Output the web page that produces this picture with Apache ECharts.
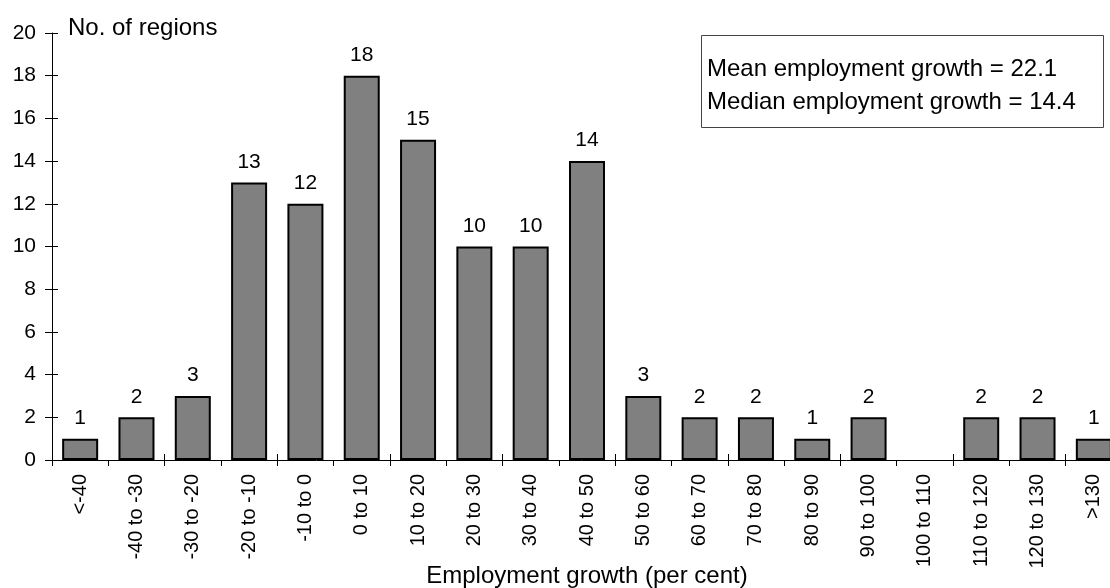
<!DOCTYPE html>
<html>
<head>
<meta charset="utf-8">
<script src="https://cdn.jsdelivr.net/npm/echarts@6/dist/echarts.min.js"></script>
<style>
  html, body { margin: 0; padding: 0; background: #fff; }
  #chart { width: 1110px; height: 588px; }
</style>
</head>
<body>
<div id="chart"></div>
<script>
// Employment growth bands (per cent)
const categories = ['<-40', '-40 to -30', '-30 to -20', '-20 to -10', '-10 to 0',
  '0 to 10', '10 to 20', '20 to 30', '30 to 40', '40 to 50', '50 to 60',
  '60 to 70', '70 to 80', '80 to 90', '90 to 100', '100 to 110',
  '110 to 120', '120 to 130', '>130'];

// Number of regions in each band
const regionCounts = [1, 2, 3, 13, 12, 18, 15, 10, 10, 14, 3, 2, 2, 1, 2, null, 2, 2, 1];

// Summary statistics shown in the note box
const summaryLines = ['Mean employment growth = 22.1', 'Median employment growth = 14.4'];

const yMax = 20;
const yStep = 2;

const FONT = 'Liberation Sans, Arial, sans-serif';

const chart = echarts.init(document.getElementById('chart'), null, { renderer: 'canvas' });

chart.setOption({
  backgroundColor: '#ffffff',
  animation: false,
  grid: {
    left: 52, right: -12, top: 33, bottom: 128,
    containLabel: false,
    outerBoundsMode: 'none'
  },
  xAxis: [
    {
      type: 'category',
      data: categories,
      position: 'bottom',
      boundaryGap: true,
      axisLine: { show: true, onZero: false, lineStyle: { color: '#000', width: 1 } },
      axisTick: { show: true, alignWithLabel: false, inside: false, length: 6, lineStyle: { color: '#000', width: 1 } },
      axisLabel: {
        rotate: 90, margin: 14, interval: 0,
        color: '#000', fontSize: 20, fontFamily: FONT
      },
      name: 'Employment growth (per cent)',
      nameLocation: 'middle',
      nameGap: 104,
      nameMoveOverlap: false,
      nameTextStyle: { color: '#000', fontSize: 24, fontFamily: FONT }
    },
    {
      // inner half of the crossing tick marks
      type: 'category',
      data: categories,
      position: 'bottom',
      boundaryGap: true,
      axisLine: { show: false, onZero: false },
      axisTick: { show: true, inside: true, length: 6, lineStyle: { color: '#000', width: 1 } },
      axisLabel: { show: false },
      splitLine: { show: false }
    }
  ],
  yAxis: [
    {
      type: 'value',
      min: 0,
      max: yMax,
      interval: yStep,
      axisLine: { show: true, lineStyle: { color: '#000', width: 1 } },
      axisTick: { show: true, inside: false, length: 7, lineStyle: { color: '#000', width: 1 } },
      axisLabel: { margin: 16, color: '#000', fontSize: 21, fontFamily: FONT },
      splitLine: { show: false },
      name: 'No. of regions',
      nameLocation: 'end',
      nameGap: 2,
      nameTextStyle: {
        color: '#000', fontSize: 24, fontFamily: FONT,
        align: 'left', verticalAlign: 'bottom', padding: [0, 0, -9, 16]
      }
    },
    {
      // inner half of the crossing tick marks
      type: 'value',
      min: 0,
      max: yMax,
      interval: yStep,
      position: 'left',
      axisLine: { show: false },
      axisTick: { show: true, inside: true, length: 6, lineStyle: { color: '#000', width: 1 } },
      axisLabel: { show: false },
      splitLine: { show: false }
    }
  ],
  series: [
    {
      type: 'bar',
      xAxisIndex: 0,
      yAxisIndex: 0,
      data: regionCounts,
      barWidth: 36,
      itemStyle: { color: '#808080', borderColor: '#000', borderWidth: 2 },
      label: {
        show: true,
        position: 'top',
        distance: 10,
        color: '#000',
        fontSize: 21,
        fontFamily: FONT
      }
    }
  ],
  graphic: [
    {
      type: 'rect',
      left: 701,
      top: 35,
      shape: { width: 402, height: 92 },
      style: { fill: '#fff', stroke: '#444', lineWidth: 1 },
      z: 10
    },
    {
      type: 'text',
      left: 707,
      top: 57,
      style: { text: summaryLines[0], fill: '#000', font: '24px ' + FONT },
      z: 11
    },
    {
      type: 'text',
      left: 707,
      top: 90,
      style: { text: summaryLines[1], fill: '#000', font: '24px ' + FONT },
      z: 11
    }
  ]
});
</script>
</body>
</html>
